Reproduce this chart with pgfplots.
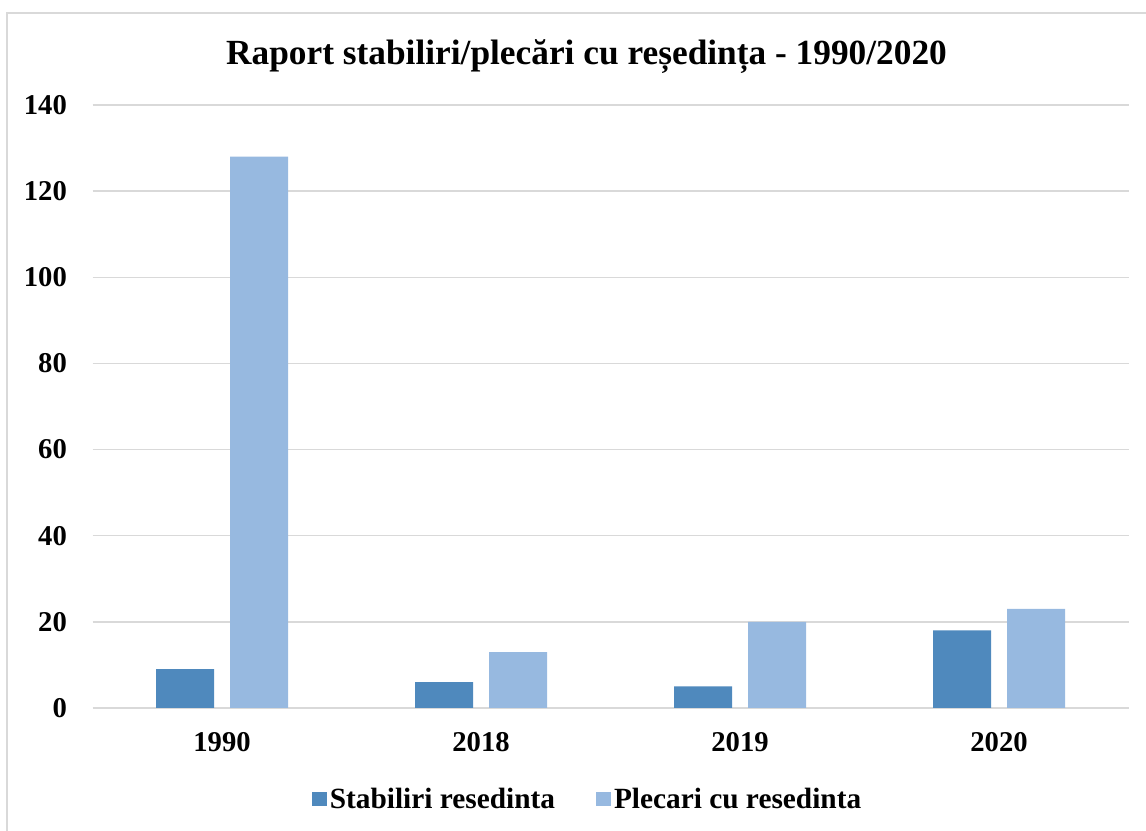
\documentclass[border=0pt]{standalone}
\usepackage{pgfplots}
\pgfplotsset{compat=1.18}
\usepackage{fontspec}
\setmainfont{Liberation Serif}
\definecolor{darkbar}{RGB}{79,137,189}
\definecolor{lightbar}{RGB}{151,185,224}
\definecolor{gridgray}{RGB}{217,217,217}
\begin{document}
\begin{tikzpicture}[x=0.75pt,y=0.75pt]
\useasboundingbox (-92.5,-123) rectangle (1053.5,708);
\draw[gridgray, line width=1.5pt] (-85.5,-130) -- (-85.5,695) -- (1060,695);
\begin{axis}[
  at={(0,0)}, anchor=south west,
  scale only axis,
  width=777pt, height=452.25pt,
  ymin=0, ymax=140,
  ytick={0,20,...,140},
  xmin=-0.5, xmax=3.5,
  xtick={0,1,2,3},
  xticklabels={1990,2018,2019,2020},
  axis line style={draw=none},
  major tick length=0pt,
  ymajorgrids,
  grid style={gridgray, line width=1pt},
  tick label style={font=\fontsize{21.5}{24}\selectfont\bfseries},
  /pgf/number format/assume math mode=true,
  yticklabel style={inner sep=0pt, xshift=-19pt},
  xticklabel style={inner sep=0pt, yshift=-18pt},
  ybar,
  bar width=43.5pt,
  legend columns=2,
  legend style={at={(0.4783,-0.1509)}, anchor=center, draw=none,
    font=\fontsize{22}{24}\selectfont\bfseries,
    /tikz/every even column/.append style={column sep=29pt}},
  legend image code/.code={\fill[#1] (0pt,-5.6pt) rectangle (11.25pt,5.6pt);},
  clip=false,
]
\addplot[fill=darkbar, draw=none, bar shift=-27.75pt] coordinates {(0,9) (1,6) (2,5) (3,18)};
\addplot[fill=lightbar, draw=none, bar shift=27.75pt] coordinates {(0,128) (1,13) (2,20) (3,23)};
\legend{Stabiliri resedinta, Plecari cu resedinta}
\end{axis}
\node[anchor=base, font=\fontsize{26.5}{30}\selectfont\bfseries] at (494,643) {Raport stabiliri/plecări cu reședința - 1990/2020};
\end{tikzpicture}
\end{document}
